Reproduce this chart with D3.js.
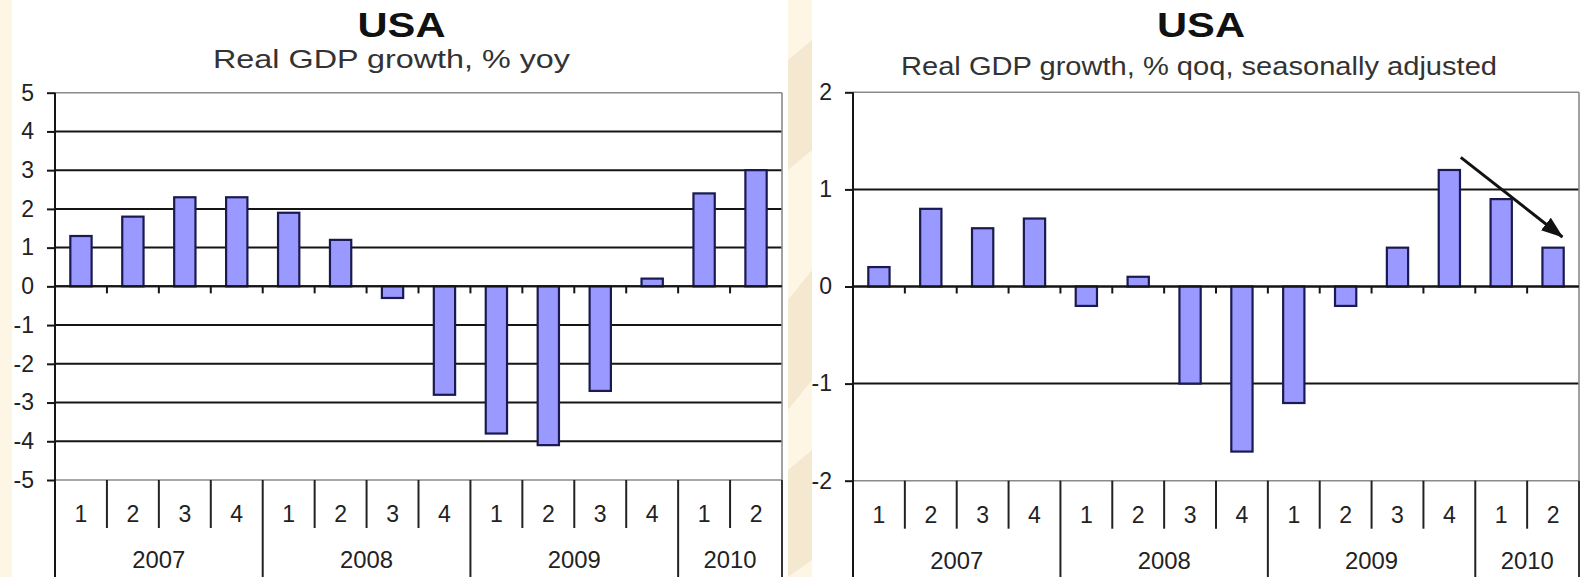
<!DOCTYPE html>
<html>
<head>
<meta charset="utf-8">
<script src="https://cdn.jsdelivr.net/npm/d3@7"></script>
<style>
  html, body { margin: 0; padding: 0; background: #fdf6e4; overflow: hidden; }
  svg { display: block; }
</style>
</head>
<body>
<div id="container"></div>
<script>
// quarters along the category axis, with the year each quarter belongs to
const quarters = ["1", "2", "3", "4", "1", "2", "3", "4", "1", "2", "3", "4", "1", "2"];
const quarterYear = ["2007", "2007", "2007", "2007", "2008", "2008", "2008", "2008",
                     "2009", "2009", "2009", "2009", "2010", "2010"];

// Real GDP growth, % yoy
const yoyValues = [1.3, 1.8, 2.3, 2.3, 1.9, 1.2, -0.3, -2.8, -3.8, -4.1, -2.7, 0.2, 2.4, 3.0];
const yoyTicks = [-5, -4, -3, -2, -1, 0, 1, 2, 3, 4, 5];

// Real GDP growth, % qoq, seasonally adjusted
const qoqValues = [0.2, 0.8, 0.6, 0.7, -0.2, 0.1, -1.0, -1.7, -1.2, -0.2, 0.4, 1.2, 0.9, 0.4];
const qoqTicks = [-2, -1, 0, 1, 2];

// arrow drawn on the qoq chart: [category position, value]
const qoqArrow = [[11.72, 1.33], [13.68, 0.51]];

const W = 1581, H = 577;
const FONT = "'Liberation Sans', Arial, sans-serif";

const svg = d3.select("#container")
  .append("svg")
  .attr("width", W)
  .attr("height", H);

// cream page background with a faint watermark
svg.append("rect").attr("width", W).attr("height", H).attr("fill", "#fdf6e4");
svg.append("path")
  .attr("d", "M788,60 L812,40 L812,150 L788,170 Z M788,300 L812,270 L812,380 L788,410 Z M788,470 L812,450 L812,560 L788,577 Z")
  .attr("fill", "#f1e6cb")
  .attr("opacity", 0.8);

function drawPanel(cfg) {
  const n = cfg.values.length;
  const g = svg.append("g");

  g.append("rect")
    .attr("x", cfg.panel[0])
    .attr("y", 0)
    .attr("width", cfg.panel[1] - cfg.panel[0])
    .attr("height", H)
    .attr("fill", "#fff");

  const x = d3.scaleBand()
    .domain(d3.range(n))
    .range([cfg.left, cfg.right])
    .padding(0);
  const bw = x.bandwidth();

  const xPos = d3.scaleLinear()
    .domain([0, n])
    .range([cfg.left, cfg.right]);

  const y = d3.scaleLinear()
    .domain(d3.extent(cfg.ticks))
    .range([cfg.bottom, cfg.top]);

  const [lo, hi] = y.domain();

  // Title + subtitle
  g.append("text")
    .attr("x", cfg.title.x)
    .attr("y", 37)
    .attr("text-anchor", "middle")
    .attr("textLength", cfg.title.len)
    .attr("lengthAdjust", "spacingAndGlyphs")
    .style("font-family", FONT)
    .style("font-size", "35px")
    .style("font-weight", "bold")
    .style("fill", "#111")
    .text("USA");

  g.append("text")
    .attr("x", cfg.subtitle.x)
    .attr("y", cfg.subtitle.y)
    .attr("text-anchor", "middle")
    .attr("textLength", cfg.subtitle.len)
    .attr("lengthAdjust", "spacingAndGlyphs")
    .style("font-family", FONT)
    .style("font-size", "25px")
    .style("fill", "#333")
    .text(cfg.subtitle.text);

  // gridlines, outer ones are the grey plot border
  g.selectAll(".grid")
    .data(cfg.ticks)
    .join("line")
    .attr("x1", cfg.left)
    .attr("x2", cfg.right)
    .attr("y1", d => y(d))
    .attr("y2", d => y(d))
    .attr("stroke", d => (d === lo || d === hi) ? "#8a8a8a" : "#151515")
    .attr("stroke-width", d => (d === lo || d === hi) ? 1.6 : 2);

  // right border of the plot, continuing down through the category table
  g.append("line")
    .attr("x1", cfg.right).attr("x2", cfg.right)
    .attr("y1", y(hi)).attr("y2", y(lo))
    .attr("stroke", "#8a8a8a")
    .attr("stroke-width", 1.6);
  g.append("line")
    .attr("x1", cfg.right).attr("x2", cfg.right)
    .attr("y1", y(lo)).attr("y2", H)
    .attr("stroke", "#333")
    .attr("stroke-width", 2);

  // bars
  g.selectAll(".bar")
    .data(cfg.values)
    .join("rect")
    .attr("x", (d, i) => x(i) + bw * 0.295)
    .attr("width", bw * 0.41)
    .attr("y", d => y(Math.max(0, d)))
    .attr("height", d => Math.abs(y(d) - y(0)))
    .attr("fill", "#9999ff")
    .attr("stroke", "#1a1a50")
    .attr("stroke-width", 2.2);

  // zero line with small ticks between the quarters
  g.append("line")
    .attr("x1", cfg.left).attr("x2", cfg.right)
    .attr("y1", y(0)).attr("y2", y(0))
    .attr("stroke", "#151515")
    .attr("stroke-width", 2);

  g.selectAll(".zt")
    .data(d3.range(1, n))
    .join("line")
    .attr("x1", i => x(i)).attr("x2", i => x(i))
    .attr("y1", y(0)).attr("y2", y(0) + 7)
    .attr("stroke", "#151515")
    .attr("stroke-width", 2);

  // y axis
  const yAxis = g.append("g")
    .attr("transform", `translate(${cfg.left},0)`)
    .call(d3.axisLeft(y)
      .tickValues(cfg.ticks)
      .tickSize(8)
      .tickPadding(13)
      .tickFormat(d => String(d)));
  yAxis.select(".domain").remove();
  yAxis.selectAll("line").attr("stroke", "#151515").attr("stroke-width", 2);
  yAxis.selectAll("text")
    .style("font-family", FONT)
    .style("font-size", "23px")
    .style("fill", "#222");

  g.append("line")
    .attr("x1", cfg.left).attr("x2", cfg.left)
    .attr("y1", y(hi)).attr("y2", H)
    .attr("stroke", "#151515")
    .attr("stroke-width", 2);

  // category table: dividers, quarter and year labels
  g.selectAll(".div")
    .data(d3.range(1, n))
    .join("line")
    .attr("x1", i => x(i)).attr("x2", i => x(i))
    .attr("y1", y(lo))
    .attr("y2", i => quarterYear[i] !== quarterYear[i - 1] ? H : y(lo) + 48)
    .attr("stroke", "#222")
    .attr("stroke-width", 2);

  g.selectAll(".q")
    .data(quarters)
    .join("text")
    .attr("x", (d, i) => x(i) + bw / 2)
    .attr("y", y(lo) + 42)
    .attr("text-anchor", "middle")
    .style("font-family", FONT)
    .style("font-size", "23px")
    .style("fill", "#222")
    .text(d => d);

  const yearGroups = d3.groups(d3.range(n), i => quarterYear[i]);
  g.selectAll(".yr")
    .data(yearGroups)
    .join("text")
    .attr("x", d => (x(d[1][0]) + x(d[1][d[1].length - 1]) + bw) / 2)
    .attr("y", y(lo) + 88)
    .attr("text-anchor", "middle")
    .attr("textLength", 53)
    .attr("lengthAdjust", "spacingAndGlyphs")
    .style("font-family", FONT)
    .style("font-size", "23px")
    .style("fill", "#222")
    .text(d => d[0]);

  // optional arrow annotation
  if (cfg.arrow) {
    const defs = svg.append("defs");
    defs.append("marker")
      .attr("id", "arrowHead")
      .attr("markerUnits", "userSpaceOnUse")
      .attr("viewBox", "0 0 22 16")
      .attr("refX", 21)
      .attr("refY", 8)
      .attr("markerWidth", 22)
      .attr("markerHeight", 16)
      .attr("orient", "auto")
      .append("path")
      .attr("d", "M0,0 L22,8 L0,16 Z")
      .attr("fill", "#111");

    g.append("line")
      .attr("x1", xPos(cfg.arrow[0][0]))
      .attr("y1", y(cfg.arrow[0][1]))
      .attr("x2", xPos(cfg.arrow[1][0]))
      .attr("y2", y(cfg.arrow[1][1]))
      .attr("stroke", "#111")
      .attr("stroke-width", 3)
      .attr("marker-end", "url(#arrowHead)");
  }
}

drawPanel({
  panel: [12, 788],
  left: 55, right: 782, top: 92.7, bottom: 480,
  values: yoyValues,
  ticks: yoyTicks,
  title: {x: 401.5, len: 88},
  subtitle: {x: 391.5, y: 68, len: 357, text: "Real GDP growth, % yoy"}
});

drawPanel({
  panel: [812, W],
  left: 853, right: 1579, top: 92.3, bottom: 480.7,
  values: qoqValues,
  ticks: qoqTicks,
  title: {x: 1201, len: 88},
  subtitle: {x: 1199, y: 75, len: 596, text: "Real GDP growth, % qoq, seasonally adjusted"},
  arrow: qoqArrow
});
</script>
</body>
</html>
